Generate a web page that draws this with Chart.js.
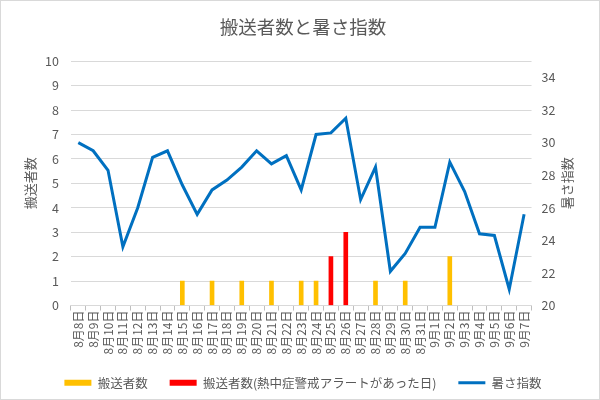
<!DOCTYPE html>
<html>
<head>
<meta charset="utf-8">
<script src="https://cdn.jsdelivr.net/npm/chart.js@4"></script>
<style>
  html, body { margin: 0; padding: 0; background: #fff; }
  #wrap { width: 598px; height: 398px; border: 1px solid #d9d9d9; }
</style>
</head>
<body>
<div id="wrap"><canvas id="myChart" width="598" height="398"></canvas></div>
<script>
// 日付ラベル
const days = [
    '8月8日', '8月9日', '8月10日', '8月11日', '8月12日', '8月13日', '8月14日', '8月15日',
    '8月16日', '8月17日', '8月18日', '8月19日', '8月20日', '8月21日', '8月22日', '8月23日',
    '8月24日', '8月25日', '8月26日', '8月27日', '8月28日', '8月29日', '8月30日', '8月31日',
    '9月1日', '9月2日', '9月3日', '9月4日', '9月5日', '9月6日', '9月7日'
];
// 搬送者数（通常）
const patients = [
    null, null, null, null, null, null, null, 1,
    null, 1, null, 1, null, 1, null, 1,
    1, null, null, null, 1, null, 1, null,
    null, 2, null, null, null, null, null
];
// 搬送者数（熱中症警戒アラートがあった日）
const alertPatients = [
    null, null, null, null, null, null, null, null,
    null, null, null, null, null, null, null, null,
    null, 2, 3, null, null, null, null, null,
    null, null, null, null, null, null, null
];
// 暑さ指数
const wbgt = [
    30.0, 29.5, 28.3, 23.6, 26.0, 29.1, 29.5, 27.4,
    25.6, 27.1, 27.7, 28.5, 29.5, 28.7, 29.2, 27.1,
    30.5, 30.6, 31.5, 26.5, 28.5, 22.1, 23.2, 24.8,
    24.8, 28.8, 27.0, 24.4, 24.3, 21.0, 25.6
];

const font = "'Noto Sans CJK JP', 'Noto Sans', sans-serif";
const grey = '#595959';

// 軸タイトル（左右とも下から上へ読む向き）
const axisTitles = {
    id: 'axisTitles',
    afterDraw(chart) {
        let c = chart.ctx;
        let area = chart.chartArea;
        let midY = (area.top + area.bottom) / 2;
        let draw = function (text, x) {
            c.save();
            c.translate(x, midY);
            c.rotate(-Math.PI / 2);
            c.fillStyle = grey;
            c.font = '13px ' + font;
            c.textAlign = 'center';
            c.textBaseline = 'middle';
            c.fillText(text, 0, 0);
            c.restore();
        };
        draw('搬送者数', 29);
        draw('暑さ指数', area.right + 36);
    }
};

let ctx = document.getElementById('myChart').getContext('2d');
let chart = new Chart(ctx, {
    data: {
        labels: days,
        datasets: [
            {
                type: 'line',
                label: '暑さ指数',
                data: wbgt,
                yAxisID: 'y1',
                borderColor: '#0070C0',
                backgroundColor: '#0070C0',
                borderWidth: 3,
                pointRadius: 0,
                pointStyle: 'line',
                tension: 0,
                order: 0
            },
            {
                type: 'bar',
                label: '搬送者数',
                data: patients,
                yAxisID: 'y',
                backgroundColor: '#FFC000',
                barThickness: 4,
                grouped: false,
                pointStyle: 'rect',
                order: 1
            },
            {
                type: 'bar',
                label: '搬送者数(熱中症警戒アラートがあった日)',
                data: alertPatients,
                yAxisID: 'y',
                backgroundColor: '#FF0000',
                barThickness: 4,
                grouped: false,
                pointStyle: 'rect',
                order: 1
            }
        ]
    },
    options: {
        responsive: false,
        animation: false,
        layout: { padding: { left: 24, right: 18, top: 4, bottom: 0 } },
        plugins: {
            title: {
                display: true,
                text: '搬送者数と暑さ指数',
                color: grey,
                font: { family: font, size: 18.5, weight: 'normal' },
                padding: { top: 11, bottom: 23 }
            },
            legend: {
                position: 'bottom',
                labels: {
                    color: grey,
                    font: { family: font, size: 12.5 },
                    usePointStyle: true,
                    pointStyleWidth: 27,
                    boxHeight: 6,
                    padding: 22,
                    sort: (a, b) => b.datasetIndex === 0 ? -1 : (a.datasetIndex === 0 ? 1 : a.datasetIndex - b.datasetIndex)
                }
            },
            tooltip: { enabled: false }
        },
        scales: {
            x: {
                offset: true,
                grid: {
                    display: true,
                    offset: true,
                    drawOnChartArea: false,
                    color: '#bfbfbf',
                    tickLength: 5
                },
                border: { color: '#d9d9d9' },
                ticks: {
                    color: grey,
                    font: { family: font, size: 12 },
                    autoSkip: false,
                    minRotation: 90,
                    maxRotation: 90,
                    padding: 0
                }
            },
            y: {
                position: 'left',
                min: 0,
                max: 10,
                afterFit: function (scale) { scale.width += 8; },
                ticks: {
                    stepSize: 1,
                    color: grey,
                    font: { family: font, size: 12.5 },
                    padding: 12
                },
                grid: { color: '#d9d9d9', drawTicks: false },
                border: { display: false }
            },
            y1: {
                position: 'right',
                min: 20,
                max: 35,
                ticks: {
                    stepSize: 2,
                    includeBounds: false,
                    color: grey,
                    font: { family: font, size: 12.5 },
                    padding: 10
                },
                grid: { drawOnChartArea: false, drawTicks: false },
                border: { display: false },
                title: {
                    display: true,
                    text: '暑さ指数',
                    color: 'rgba(0,0,0,0)',
                    font: { family: font, size: 13 },
                    padding: 0
                }
            }
        }
    },
    plugins: [axisTitles]
});
</script>
</body>
</html>
